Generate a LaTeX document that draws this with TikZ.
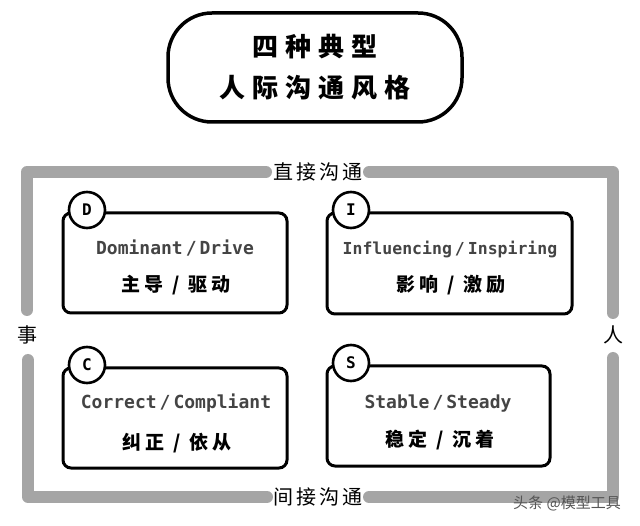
\documentclass[tikz,border=0pt]{standalone}
\usepackage{fontspec}
\newfontfamily\cjkT{Noto Sans CJK SC}[LetterSpace=27]
\newfontfamily\cjkB{Noto Sans CJK SC}[LetterSpace=22]
\newfontfamily\cjkF{Noto Sans CJK SC}[LetterSpace=16]
\newfontfamily\cjkW{Noto Sans CJK SC}
\newfontfamily\enF{DejaVu Sans Mono}
\definecolor{framegray}{HTML}{A5A5A5}
\definecolor{engray}{HTML}{444444}
\definecolor{wmgray}{HTML}{555555}
\tikzset{
  titlebox/.style={draw, line width=3.5pt, rounded corners=44pt, minimum width=294pt,
    minimum height=109pt, align=center, inner sep=0pt,
    font=\cjkT\bfseries\fontsize{26}{41}\selectfont},
  quadbox/.style={draw, line width=3pt, rounded corners=8pt, inner sep=0pt},
  badge/.style={circle, draw, line width=2.6pt, fill=white, minimum size=36pt, inner sep=0pt,
    font=\enF\bfseries\fontsize{16}{16}\selectfont},
  entext/.style={text=engray, inner sep=0pt, font=\enF\bfseries\fontsize{18}{18}\selectfont},
  zhtext/.style={text=black, inner sep=0pt, font=\cjkB\bfseries\fontsize{19}{19}\selectfont},
  framelabel/.style={text=black, inner sep=0pt, font=\cjkF\fontsize{20}{20}\selectfont},
  frameline/.style={draw=framegray, line width=12pt, line cap=round, line join=round},
}
\begin{document}
\begin{tikzpicture}[x=1pt,y=-1pt]
\useasboundingbox (0,0) rectangle (640,526);
\fill[white] (0,0) rectangle (640,526);

% title
\node[titlebox] (title) at (315,67.5) {四种典型\\人际沟通风格};

% frame labels
\node[framelabel] (direct) at (318,172) {直接沟通};
\node[framelabel] (indirect) at (318,497) {间接沟通};
\node[framelabel] (shi) at (27,335) {事};
\node[framelabel] (ren) at (613,335) {人};

% frame corners and ends
\coordinate (tlA) at (266,172);
\coordinate (tlC) at (27,172);
\coordinate (tlB) at (27,310);
\coordinate (trA) at (369,172);
\coordinate (trC) at (613,172);
\coordinate (trB) at (613,313);
\coordinate (blA) at (28,360);
\coordinate (blC) at (28,497);
\coordinate (blB) at (267,497);
\coordinate (brA) at (369,497);
\coordinate (brC) at (613,497);
\coordinate (brB) at (613,358);
\draw[frameline] (tlA) -- (tlC) -- (tlB);
\draw[frameline] (trA) -- (trC) -- (trB);
\draw[frameline] (blA) -- (blC) -- (blB);
\draw[frameline] (brA) -- (brC) -- (brB);

% quadrant boxes
\node[quadbox, minimum width=224pt, minimum height=100pt] (D) at (175,263) {};
\node[quadbox, minimum width=245pt, minimum height=101pt] (I) at (449.5,263.5) {};
\node[quadbox, minimum width=224pt, minimum height=100pt] (C) at (175,418) {};
\node[quadbox, minimum width=223pt, minimum height=100pt] (S) at (438.5,416) {};

% badges
\node[badge] (Db) at (87,210) {D};
\node[badge] (Ib) at (351,210) {I};
\node[badge] (Cb) at (87,365) {C};
\node[badge] (Sb) at (351,363) {S};

% texts
\node[entext] (Den) at (175,248) {Dominant\hspace{3pt}/\hspace{3pt}Drive};
\node[zhtext] (Dzh) at (176,285) {主导 / 驱动};
\node[entext, font=\enF\bfseries\fontsize{16.5}{16.5}\selectfont] (Ien) at (450,250) {Influencing\hspace{3pt}/\hspace{3pt}Inspiring};
\node[zhtext] (Izh) at (451,285) {影响 / 激励};
\node[entext] (Cen) at (176,403) {Correct\hspace{3pt}/\hspace{3pt}Compliant};
\node[zhtext] (Czh) at (177,443) {纠正 / 依从};
\node[entext] (Sen) at (438,404) {Stable\hspace{3pt}/\hspace{3pt}Steady};
\node[zhtext] (Szh) at (440,440) {稳定 / 沉着};

% watermark
\node[text=wmgray, inner sep=0pt, font=\cjkW\fontsize{15}{15}\selectfont] (wm) at (567,503) {头条 @模型工具};
\end{tikzpicture}
\end{document}
